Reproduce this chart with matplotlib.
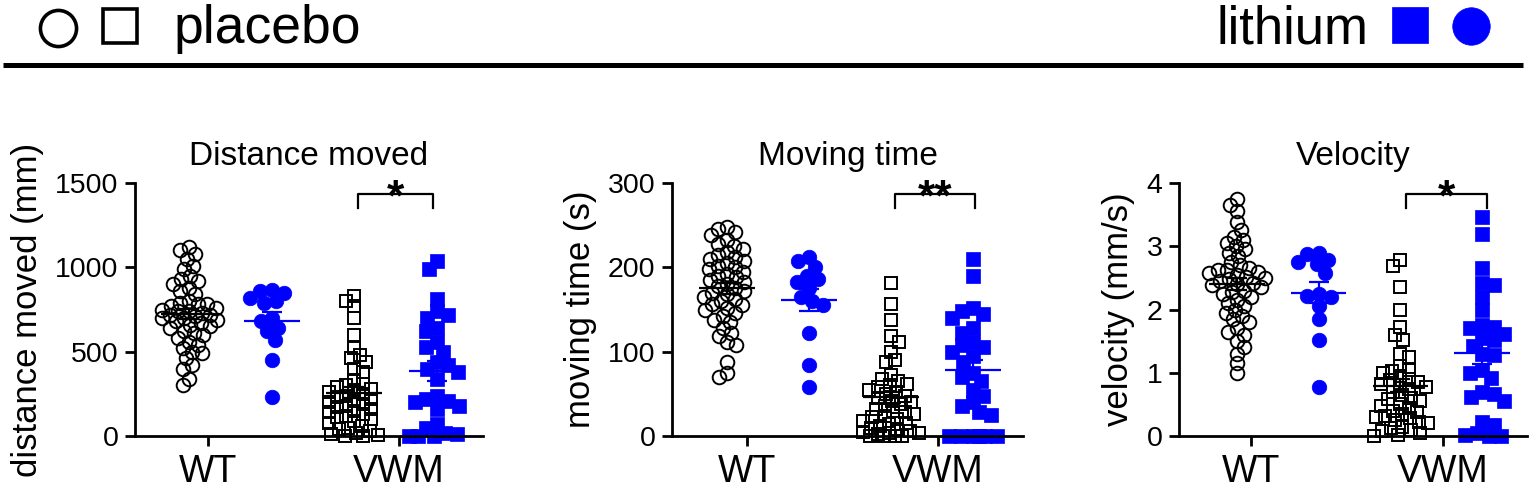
import matplotlib
matplotlib.use('Agg')
import matplotlib.pyplot as plt
import numpy as np
from matplotlib.transforms import blended_transform_factory

# ---------------------------------------------------------------------------
# Data
# ---------------------------------------------------------------------------

genotypes    = ['WT', 'VWM']
panel_titles = ['Distance moved', 'Moving time', 'Velocity']
y_labels     = ['distance moved (mm)', 'moving time (s)', 'velocity (mm/s)']
y_max        = [1500, 300, 4]
y_ticks      = [[0, 500, 1000, 1500], [0, 100, 200, 300], [0, 1, 2, 3, 4]]
sig_marks    = ['*', '**', '*']

dist_wt_placebo = [1120, 1100, 1080, 1050, 1010, 990, 950, 930, 920, 900, 880, 860,
                   840, 800, 790, 780, 780, 770, 760, 750, 740, 740, 730, 720, 720,
                   710, 700, 700, 690, 680, 670, 660, 650, 640, 620, 610, 600, 580,
                   560, 540, 520, 500, 490, 460, 420, 400, 340, 300]
dist_wt_lithium = [865, 860, 850, 820, 800, 790, 700, 680, 640, 620, 570, 450, 230]
dist_vwm_placebo = [830, 800, 770, 700, 600, 520, 480, 460, 440, 400, 380, 330, 310,
                    300, 290, 280, 270, 260, 250, 240, 230, 220, 210, 200, 190, 180,
                    170, 160, 150, 140, 130, 120, 110, 100, 90, 80, 60, 50, 40, 30,
                    20, 10, 5, 0, 0]
dist_vwm_lithium = [1040, 990, 810, 740, 720, 700, 640, 620, 560, 530, 500, 440, 420,
                    400, 380, 340, 240, 220, 210, 200, 180, 160, 70, 50, 20, 10, 0, 0, 0]

time_wt_placebo = [248, 245, 242, 238, 232, 228, 225, 222, 218, 215, 212, 210, 208,
                   205, 202, 200, 198, 195, 192, 190, 188, 185, 183, 180, 178, 175,
                   172, 170, 168, 165, 162, 160, 157, 155, 152, 150, 146, 142, 138,
                   135, 128, 122, 118, 112, 108, 88, 75, 70]
time_wt_lithium = [212, 208, 200, 190, 186, 183, 175, 165, 160, 155, 122, 84, 58]
time_vwm_placebo = [182, 157, 138, 118, 112, 100, 90, 88, 72, 68, 65, 62, 60, 58, 55,
                    52, 50, 48, 45, 42, 40, 38, 35, 32, 30, 28, 26, 24, 22, 20, 18,
                    16, 14, 12, 10, 8, 6, 5, 4, 3, 2, 0, 0, 0, 0]
time_vwm_lithium = [210, 190, 152, 148, 145, 140, 128, 122, 112, 108, 105, 100, 95,
                    88, 75, 70, 65, 55, 48, 40, 35, 28, 25, 0, 0, 0, 0, 0, 0]

vel_wt_placebo = [3.75, 3.65, 3.55, 3.38, 3.25, 3.15, 3.1, 3.05, 3.0, 2.95, 2.9, 2.85,
                  2.75, 2.7, 2.65, 2.62, 2.6, 2.58, 2.55, 2.52, 2.5, 2.48, 2.45, 2.42,
                  2.4, 2.38, 2.35, 2.3, 2.25, 2.2, 2.15, 2.1, 2.05, 2.0, 1.95, 1.9,
                  1.85, 1.8, 1.7, 1.65, 1.6, 1.5, 1.4, 1.3, 1.15, 1.0, 2.28, 2.62]
vel_wt_lithium = [2.9, 2.87, 2.78, 2.75, 2.72, 2.58, 2.25, 2.22, 2.2, 2.05, 1.85, 1.52, 0.78]
vel_vwm_placebo = [2.78, 2.68, 2.35, 2.0, 1.72, 1.6, 1.52, 1.3, 1.25, 1.1, 1.05, 1.02,
                   1.0, 0.95, 0.9, 0.88, 0.85, 0.82, 0.8, 0.78, 0.75, 0.7, 0.65, 0.6,
                   0.58, 0.55, 0.5, 0.48, 0.45, 0.4, 0.38, 0.35, 0.32, 0.3, 0.28, 0.25,
                   0.22, 0.2, 0.15, 0.12, 0.1, 0.08, 0.05, 0.02, 0.0]
vel_vwm_lithium = [3.46, 3.2, 2.66, 2.42, 2.38, 2.2, 2.0, 1.75, 1.72, 1.7, 1.62, 1.55,
                   1.52, 1.42, 1.3, 1.28, 1.05, 1.0, 0.92, 0.7, 0.66, 0.62, 0.55, 0.22,
                   0.18, 0.05, 0.02, 0.0, 0.0]

panels = [
    [dist_wt_placebo, dist_wt_lithium, dist_vwm_placebo, dist_vwm_lithium],
    [time_wt_placebo, time_wt_lithium, time_vwm_placebo, time_vwm_lithium],
    [vel_wt_placebo, vel_wt_lithium, vel_vwm_placebo, vel_vwm_lithium],
]

# ---------------------------------------------------------------------------
# Style
# ---------------------------------------------------------------------------

BLUE = '#0000ff'
plt.rcParams['font.family'] = ['Liberation Sans', 'DejaVu Sans']

W, H = 1532, 495
PX = 72.0 / 100  # points per pixel at dpi 100


def swarm_offsets(vals, ypx, xpx, min_dist=7.0, step=1.0, max_half=28.0):
    """Beeswarm-ish horizontal offsets (data units), limited to a band."""
    vals = np.asarray(vals, dtype=float)
    order = np.argsort(-vals, kind='stable')
    placed = []
    offs = np.zeros(len(vals))
    side = 1
    n_steps = int(max_half / step)
    for i in order:
        y = vals[i] * ypx
        cands = [0.0]
        for k in range(1, n_steps + 1):
            cands += [side * k * step, -side * k * step]
        best, best_d = 0.0, -1.0
        for c in cands:
            d = min([np.hypot(c - px, y - py) for px, py in placed] or [1e9])
            if d >= min_dist:
                best = c
                break
            if d > best_d + 0.5:
                best, best_d = c, d
        side = -side
        offs[i] = best
        placed.append((best, y))
    return offs / xpx


fig = plt.figure(figsize=(W / 100, H / 100), dpi=100)

# ---------------------------------------------------------------------------
# Header legend (pixel coordinates)
# ---------------------------------------------------------------------------

hdr = fig.add_axes([0, 0, 1, 1])
hdr.set_xlim(0, W)
hdr.set_ylim(H, 0)
hdr.axis('off')
hdr.plot([3, 1523], [64.5, 64.5], color='black', lw=5 * PX, solid_capstyle='butt')
hdr.plot([58], [28], marker='o', ms=26, mfc='none', mec='black', mew=2.6)
hdr.plot([120], [26], marker='s', ms=25, mfc='none', mec='black', mew=2.6)
hdr.text(174, 43, 'placebo', fontsize=38.5, ha='left', va='baseline')
hdr.text(1368, 43, 'lithium', fontsize=38, ha='right', va='baseline')
hdr.plot([1410], [25], marker='s', ms=26, mfc=BLUE, mec=BLUE, mew=0.5)
hdr.plot([1471], [26], marker='o', ms=27, mfc=BLUE, mec=BLUE, mew=0.5)

# ---------------------------------------------------------------------------
# Panels
# ---------------------------------------------------------------------------

lefts   = [135, 672, 1179]
widths  = [348, 351, 348]
xlims   = [(-0.66, 3.56), (-0.67, 3.61), (-0.71, 3.55)]
xticks  = [(0.22, 2.54), (0.24, 2.57), (0.17, 2.52)]
bracket = [(2.05, 2.95), (2.05, 3.02), (2.07, 3.06)]
ax_top, ax_bot = 183, 436

for p in range(3):
    ax = fig.add_axes([lefts[p] / W, (H - ax_bot) / H,
                       widths[p] / W, (ax_bot - ax_top) / H])
    ax.set_xlim(*xlims[p])
    ax.set_ylim(0, y_max[p])
    xpx = widths[p] / (xlims[p][1] - xlims[p][0])
    ypx = (ax_bot - ax_top) / y_max[p]

    for g, vals in enumerate(panels[p]):
        vals = np.asarray(vals, dtype=float)
        lithium = g % 2 == 1
        color = BLUE if lithium else 'black'
        marker = 'o' if g < 2 else 's'
        if lithium:
            offs = swarm_offsets(vals, ypx, xpx, min_dist=11.5, max_half=28)
            ms = 10.5 if marker == 'o' else 10
            ax.plot(g + offs, vals, ls='none', marker=marker, ms=ms,
                    mfc=BLUE, mec=BLUE, mew=0.5, clip_on=False, zorder=2)
        else:
            offs = swarm_offsets(vals, ypx, xpx, min_dist=9.0, max_half=28)
            ms = 9.8 if marker == 'o' else 8.6
            ax.plot(g + offs, vals, ls='none', marker=marker, ms=ms,
                    mfc='none', mec='black', mew=1.4, clip_on=False, zorder=2)

        mean = vals.mean()
        sem = vals.std(ddof=1) / np.sqrt(len(vals))
        ax.hlines(mean, g - 0.34, g + 0.34, color=color, lw=1.6, zorder=4)
        ax.errorbar(g, mean, yerr=sem, fmt='none', ecolor=color,
                    elinewidth=1.6, capsize=7, capthick=1.6, zorder=4)

    # significance bracket
    tr = blended_transform_factory(ax.transData, ax.transAxes)
    x0, x1 = bracket[p]
    ax.plot([x0, x0, x1, x1], [0.9, 0.957, 0.957, 0.9], transform=tr,
            color='black', lw=1.6, clip_on=False)
    ax.text((x0 + x1) / 2, 0.89, sig_marks[p], transform=tr, ha='center',
            va='baseline', fontsize=32, fontweight='bold')

    # axes styling
    for s in ['top', 'right']:
        ax.spines[s].set_visible(False)
    for s in ['left', 'bottom']:
        ax.spines[s].set_linewidth(2.0)
    ax.set_yticks(y_ticks[p])
    ax.set_xticks(xticks[p])
    ax.set_xticklabels(genotypes, fontsize=27)
    ax.tick_params(axis='y', length=7, width=2.0, pad=5, labelsize=20.5,
                   direction='out')
    ax.tick_params(axis='x', length=7, width=2.0, pad=6, direction='out')
    ax.set_ylabel(y_labels[p], fontsize=25, labelpad=8)
    ax.set_title(panel_titles[p], fontsize=24, pad=13)

fig.savefig('out.png', dpi=100)
